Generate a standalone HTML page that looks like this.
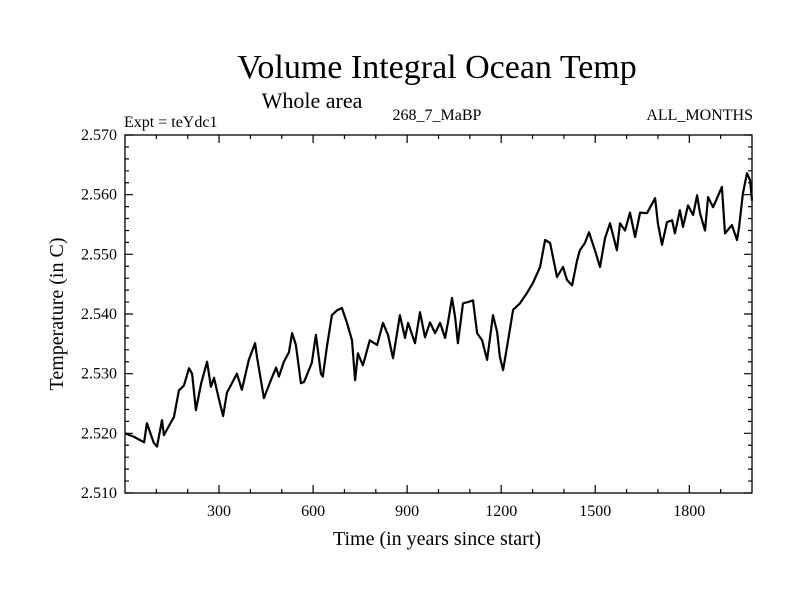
<!DOCTYPE html>
<html><head><meta charset="utf-8"><style>
html,body{margin:0;padding:0;background:#fff;}
svg{display:block;font-family:"Liberation Serif",serif;}
</style></head><body>
<svg id="chart" width="800" height="600">
<text x="437" y="78" font-size="34" text-anchor="middle">Volume Integral Ocean Temp</text>
<text x="312" y="108" font-size="22" text-anchor="middle">Whole area</text>
<text x="124" y="127" font-size="16">Expt = teYdc1</text>
<text x="437" y="120" font-size="16" text-anchor="middle">268_7_MaBP</text>
<text x="753" y="120" font-size="16" text-anchor="end">ALL_MONTHS</text>
<text x="437" y="545" font-size="20" text-anchor="middle">Time (in years since start)</text>
<text x="0" y="0" font-size="20" text-anchor="middle" transform="translate(63,314) rotate(-90)">Temperature (in C)</text>
<g id="axes"></g>
<g id="series"></g>
</svg>
<script>
const years = [0,29,61,70,92,102,118,124,147,156,172,188,204,214,226,243,262,274,284,300,313,325,357,373,395,415,421,443,466,482,491,507,523,533,545,561,571,596,609,625,631,644,660,676,692,708,724,734,743,759,781,804,823,839,855,877,893,903,925,941,957,973,989,1005,1021,1030,1043,1053,1062,1078,1094,1110,1123,1139,1155,1174,1187,1196,1206,1222,1238,1260,1282,1301,1324,1340,1356,1378,1397,1410,1426,1442,1451,1467,1480,1499,1515,1531,1547,1569,1579,1595,1611,1627,1643,1665,1691,1700,1713,1729,1745,1754,1770,1780,1796,1812,1825,1834,1850,1860,1876,1904,1914,1936,1952,1959,1971,1984,1994,2000];
const temps = [2.5200,2.5194,2.5185,2.5217,2.5184,2.5178,2.5222,2.5197,2.5219,2.5227,2.5272,2.5280,2.5309,2.5300,2.5239,2.5284,2.5320,2.5278,2.5293,2.5256,2.5229,2.5268,2.5300,2.5273,2.5323,2.5351,2.5328,2.5259,2.5290,2.5310,2.5295,2.5320,2.5336,2.5368,2.5348,2.5284,2.5286,2.5318,2.5365,2.5300,2.5295,2.5345,2.5398,2.5406,2.5410,2.5385,2.5356,2.5289,2.5334,2.5314,2.5356,2.5348,2.5385,2.5365,2.5326,2.5398,2.5360,2.5385,2.5351,2.5403,2.5361,2.5386,2.5368,2.5385,2.5360,2.5385,2.5427,2.5395,2.5351,2.5418,2.5420,2.5423,2.5368,2.5356,2.5323,2.5398,2.5370,2.5328,2.5306,2.5356,2.5407,2.5418,2.5435,2.5452,2.5479,2.5524,2.5519,2.5462,2.5479,2.5457,2.5448,2.5490,2.5507,2.5519,2.5537,2.5507,2.5479,2.5527,2.5552,2.5507,2.5552,2.5540,2.5570,2.5529,2.5570,2.5569,2.5594,2.5552,2.5516,2.5554,2.5557,2.5535,2.5574,2.5546,2.5582,2.5566,2.5599,2.5569,2.5540,2.5596,2.5579,2.5613,2.5535,2.5549,2.5524,2.5546,2.5602,2.5636,2.5624,2.5590];
const xTicks = [300,600,900,1200,1500,1800];
const yTicks = [2.510,2.520,2.530,2.540,2.550,2.560,2.570];
const yLabels = ["2.510","2.520","2.530","2.540","2.550","2.560","2.570"];

const L=125,R=752,T=135,B=493, X0=0,X1=2000,Y0=2.510,Y1=2.570;
const sx=v=>L+(v-X0)/(X1-X0)*(R-L);
const sy=v=>B-(v-Y0)/(Y1-Y0)*(B-T);
const NS="http://www.w3.org/2000/svg";
function mk(tag,attrs,parent){const e=document.createElementNS(NS,tag);for(const k in attrs)e.setAttribute(k,attrs[k]);parent.appendChild(e);return e;}
const ax=document.getElementById('axes');
const frame=mk('rect',{x:L,y:T,width:R-L,height:B-T,fill:'none',stroke:'#000','stroke-width':1.3},ax);


let d='';
for(let t=100;t<2000;t+=100){const x=sx(t);const len=(t%300===0)?8:4;d+=`M${x},${B}v${-len}M${x},${T}v${len}`;}
for(let i=0;i<=30;i++){const v=Y0+i*0.002;const y=sy(v);const len=(i%5===0)?8:4;d+=`M${L},${y}h${len}M${R},${y}h${-len}`;}
const ticks=mk('path',{d:d,stroke:'#000','stroke-width':1.2,fill:'none'},ax);


xTicks.forEach(t=>{const e=mk('text',{x:sx(t),y:B+23,'font-size':16,'text-anchor':'middle'},ax);e.textContent=t;

});
yTicks.forEach((v,i)=>{const e=mk('text',{x:L-8,y:sy(v)+5,'font-size':16,'text-anchor':'end'},ax);e.textContent=yLabels[i];

});
const pts=years.map((t,i)=>sx(t).toFixed(1)+','+sy(temps[i]).toFixed(1)).join(' ');
const line=mk('polyline',{points:pts,fill:'none',stroke:'#000','stroke-width':2.2,'stroke-linejoin':'round'},document.getElementById('series'));


</script>
</body></html>
